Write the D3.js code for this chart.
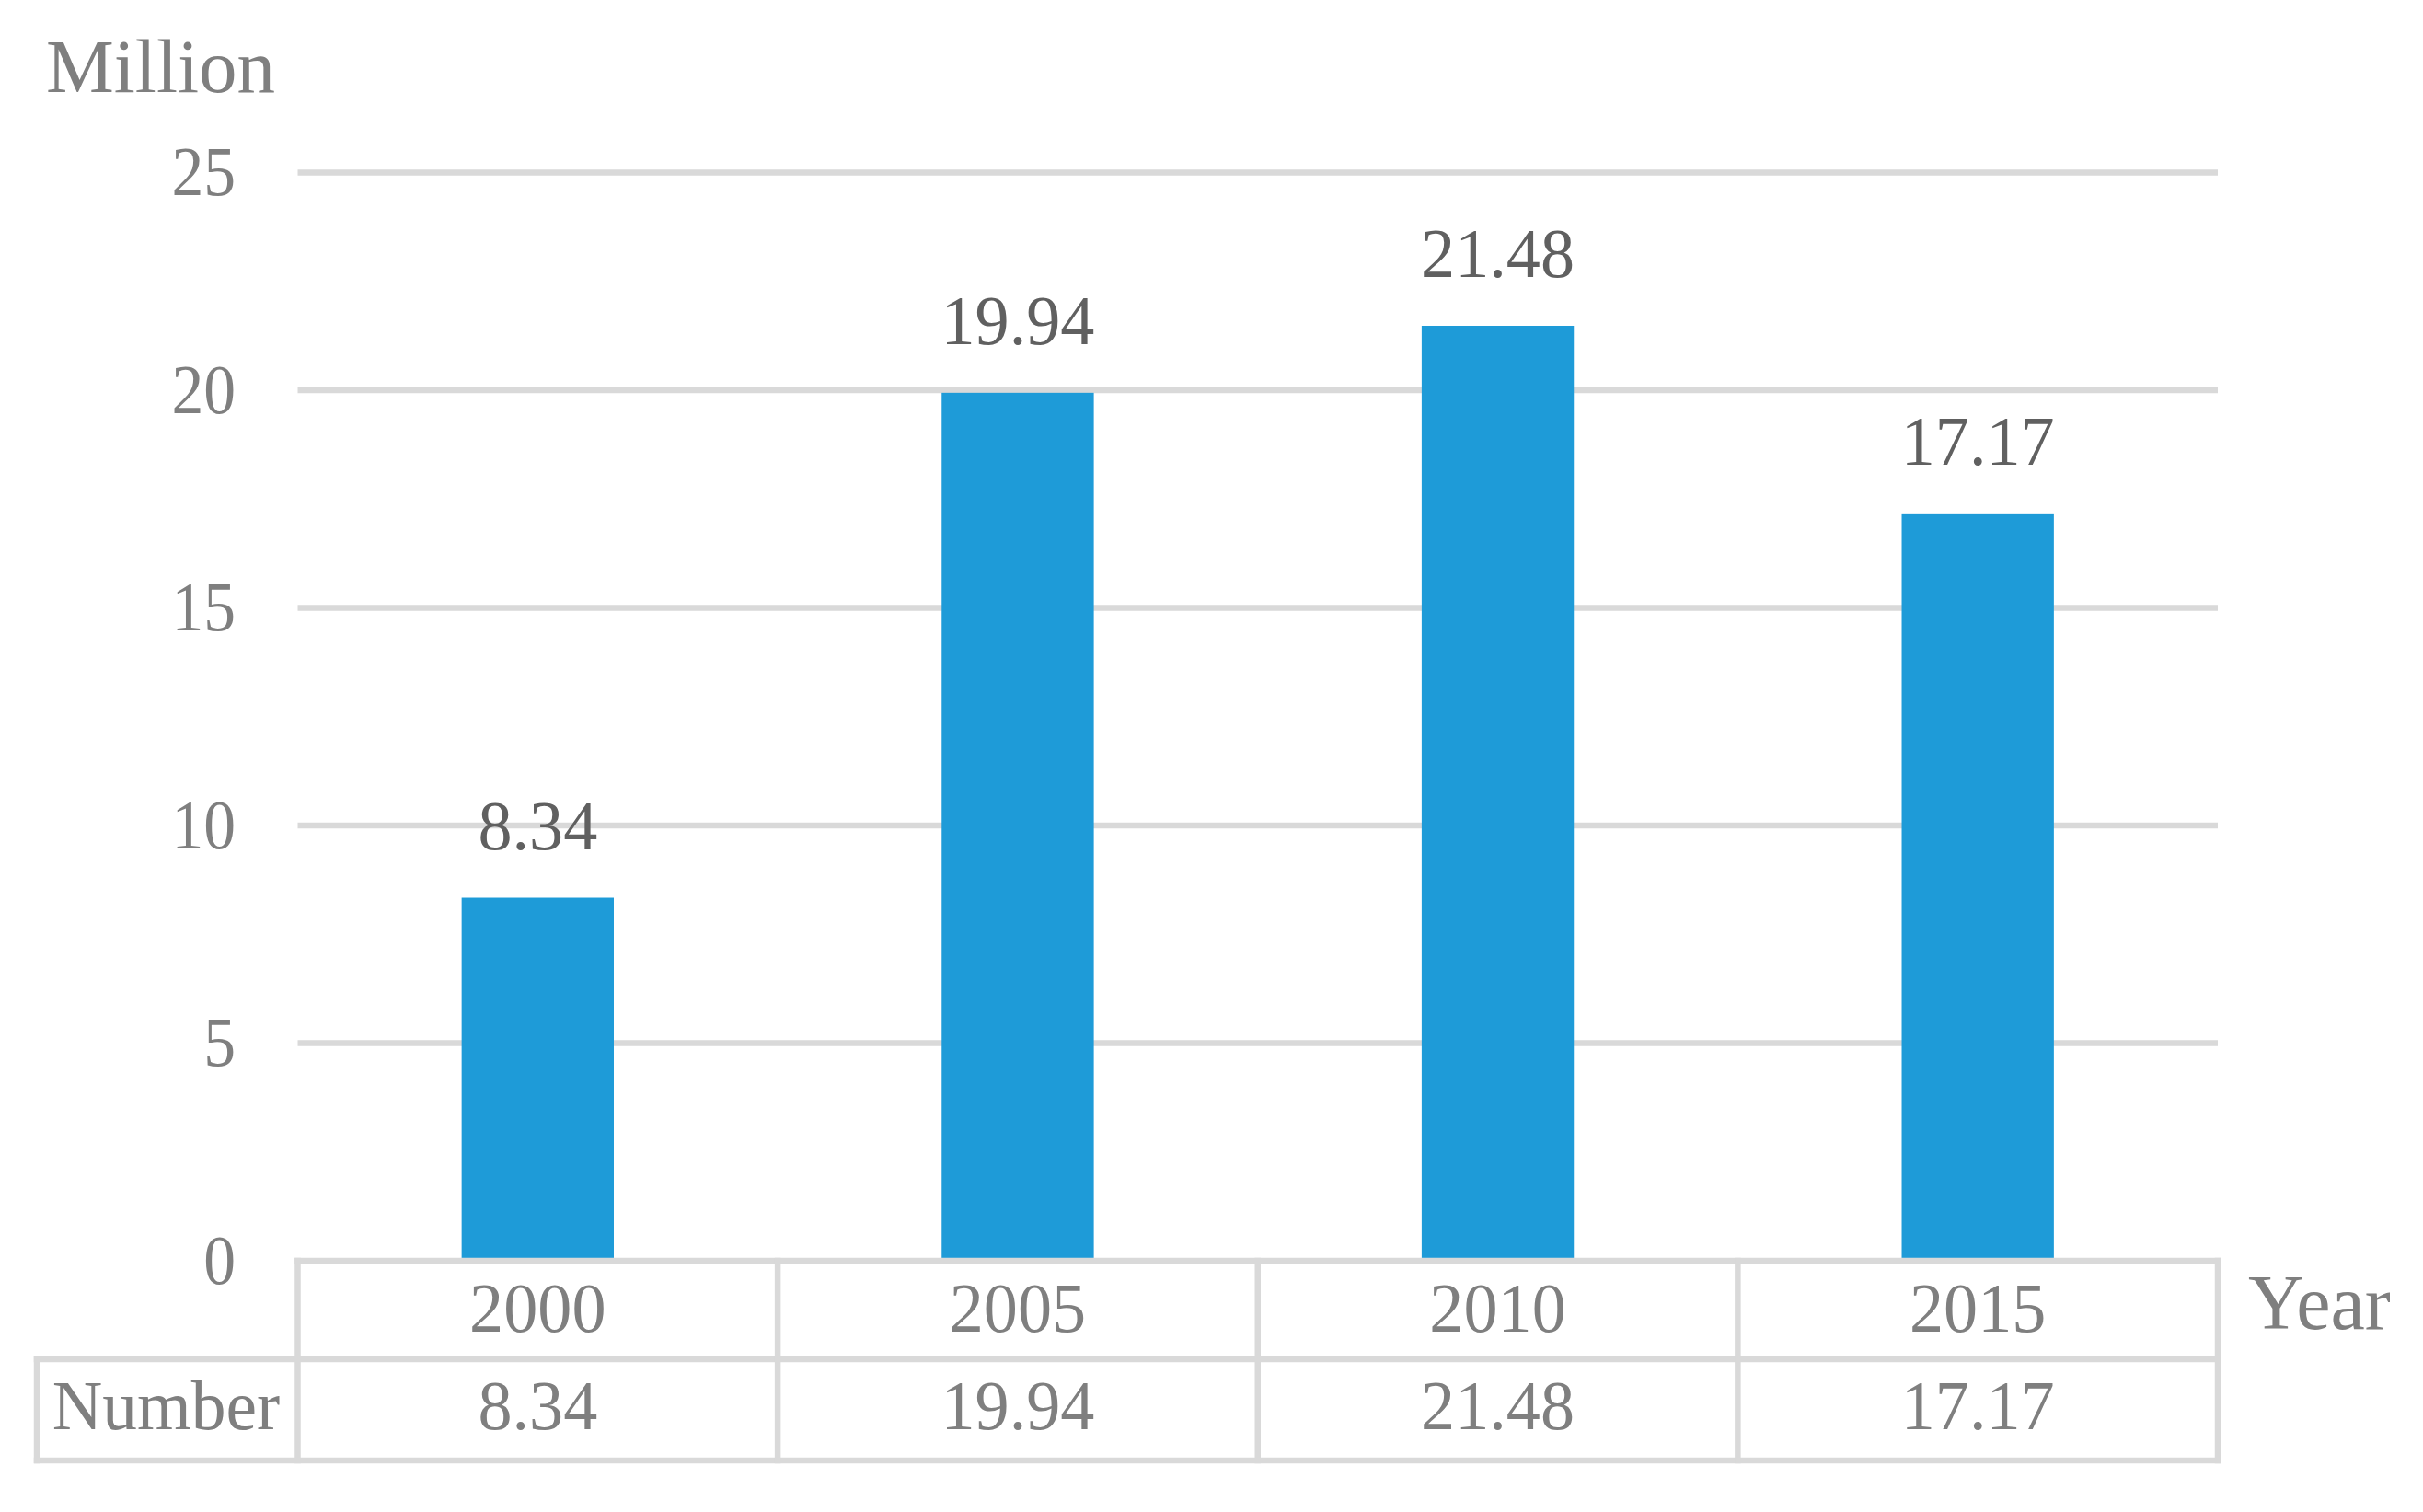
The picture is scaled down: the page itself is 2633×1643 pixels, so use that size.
<!DOCTYPE html>
<html>
<head>
<meta charset="utf-8">
<script src="https://cdn.jsdelivr.net/npm/d3@7"></script>
<style>
  html, body { margin: 0; padding: 0; background: #ffffff; }
  svg { display: block; }
  text { font-family: "Liberation Serif", "Times New Roman", serif; }
</style>
</head>
<body>
<svg id="chart" width="2633" height="1643"></svg>
<script>
const categories = ["2000", "2005", "2010", "2015"];
const values = [8.34, 19.94, 21.48, 17.17];
const valueLabels = ["8.34", "19.94", "21.48", "17.17"];
const yTicks = [0, 5, 10, 15, 20, 25];
const seriesName = "Number";
const yTitle = "Million";
const xTitle = "Year";

const W = 2633, H = 1643;
const plotLeft = 323.5, plotRight = 2410;
const yZero = 1370, yTop = 187.5;
const rowBottom1 = 1477, rowBottom2 = 1587;
const tableLeft = 40;

const gridColor = "#d9d9d9";
const textGray = "#7f7f7f";
const labelGray = "#606060";
const barColor = "#1e9bd8";

const svg = d3.select("#chart");
svg.append("rect").attr("width", W).attr("height", H).attr("fill", "#ffffff");

const y = d3.scaleLinear().domain([0, 25]).range([yZero, yTop]);
const x = d3.scaleBand().domain(categories).range([plotLeft, plotRight])
  .paddingInner(0.683).paddingOuter(0.3415);
const col = d3.scaleBand().domain(categories).range([plotLeft, plotRight]).padding(0);

// gridlines
svg.append("g").selectAll("line").data(yTicks.filter(t => t > 0)).join("line")
  .attr("x1", plotLeft).attr("x2", plotRight)
  .attr("y1", d => y(d)).attr("y2", d => y(d))
  .attr("stroke", gridColor).attr("stroke-width", 6.5);

// y tick labels (slightly condensed like the reference)
svg.append("g").selectAll("text").data(yTicks).join("text")
  .attr("transform", d => `translate(256,${y(d) + 24.5}) scale(0.91,1)`)
  .attr("text-anchor", "end")
  .attr("font-size", 76.5).attr("fill", textGray)
  .text(d => d);

// bars
svg.append("g").selectAll("rect").data(values).join("rect")
  .attr("x", (d, i) => x(categories[i]))
  .attr("width", x.bandwidth())
  .attr("y", d => y(d))
  .attr("height", d => y(0) - y(d))
  .attr("fill", barColor);

// data labels
svg.append("g").selectAll("text").data(values).join("text")
  .attr("transform", (d, i) => `translate(${x(categories[i]) + x.bandwidth() / 2},${y(d) - 53}) scale(0.97,1)`)
  .attr("text-anchor", "middle")
  .attr("font-size", 76.5).attr("fill", labelGray)
  .text((d, i) => valueLabels[i]);

// data table
const tbl = svg.append("g").attr("stroke", gridColor).attr("stroke-width", 6.5)
  .attr("stroke-linecap", "square").attr("fill", "none");
tbl.append("line").attr("x1", plotLeft).attr("x2", plotRight).attr("y1", y(0)).attr("y2", y(0));
tbl.append("line").attr("x1", tableLeft).attr("x2", plotRight).attr("y1", rowBottom1).attr("y2", rowBottom1);
tbl.append("line").attr("x1", tableLeft).attr("x2", plotRight).attr("y1", rowBottom2).attr("y2", rowBottom2);
tbl.append("line").attr("x1", tableLeft).attr("x2", tableLeft).attr("y1", rowBottom1).attr("y2", rowBottom2);
const colEdges = categories.map(c => col(c)).concat([plotRight]);
tbl.selectAll("line.v").data(colEdges).join("line").attr("class", "v")
  .attr("x1", d => d).attr("x2", d => d)
  .attr("y1", y(0)).attr("y2", rowBottom2);

// header row: categories
svg.append("g").selectAll("text").data(categories).join("text")
  .attr("transform", d => `translate(${col(d) + col.bandwidth() / 2},1447) scale(0.97,1)`)
  .attr("text-anchor", "middle")
  .attr("font-size", 76.5).attr("fill", textGray)
  .text(d => d);

// value row
svg.append("g").selectAll("text").data(values).join("text")
  .attr("transform", (d, i) => `translate(${col(categories[i]) + col.bandwidth() / 2},1553) scale(0.97,1)`)
  .attr("text-anchor", "middle")
  .attr("font-size", 76.5).attr("fill", textGray)
  .text((d, i) => valueLabels[i]);

// series name
svg.append("text")
  .attr("x", 180.5).attr("y", 1553)
  .attr("text-anchor", "middle")
  .attr("font-size", 75.5).attr("fill", textGray)
  .text(seriesName);

// axis titles
svg.append("text").attr("x", 50).attr("y", 100)
  .attr("font-size", 83).attr("fill", textGray).text(yTitle);
svg.append("text").attr("x", 2443).attr("y", 1444)
  .attr("font-size", 84).attr("fill", textGray).text(xTitle);
</script>
</body>
</html>
